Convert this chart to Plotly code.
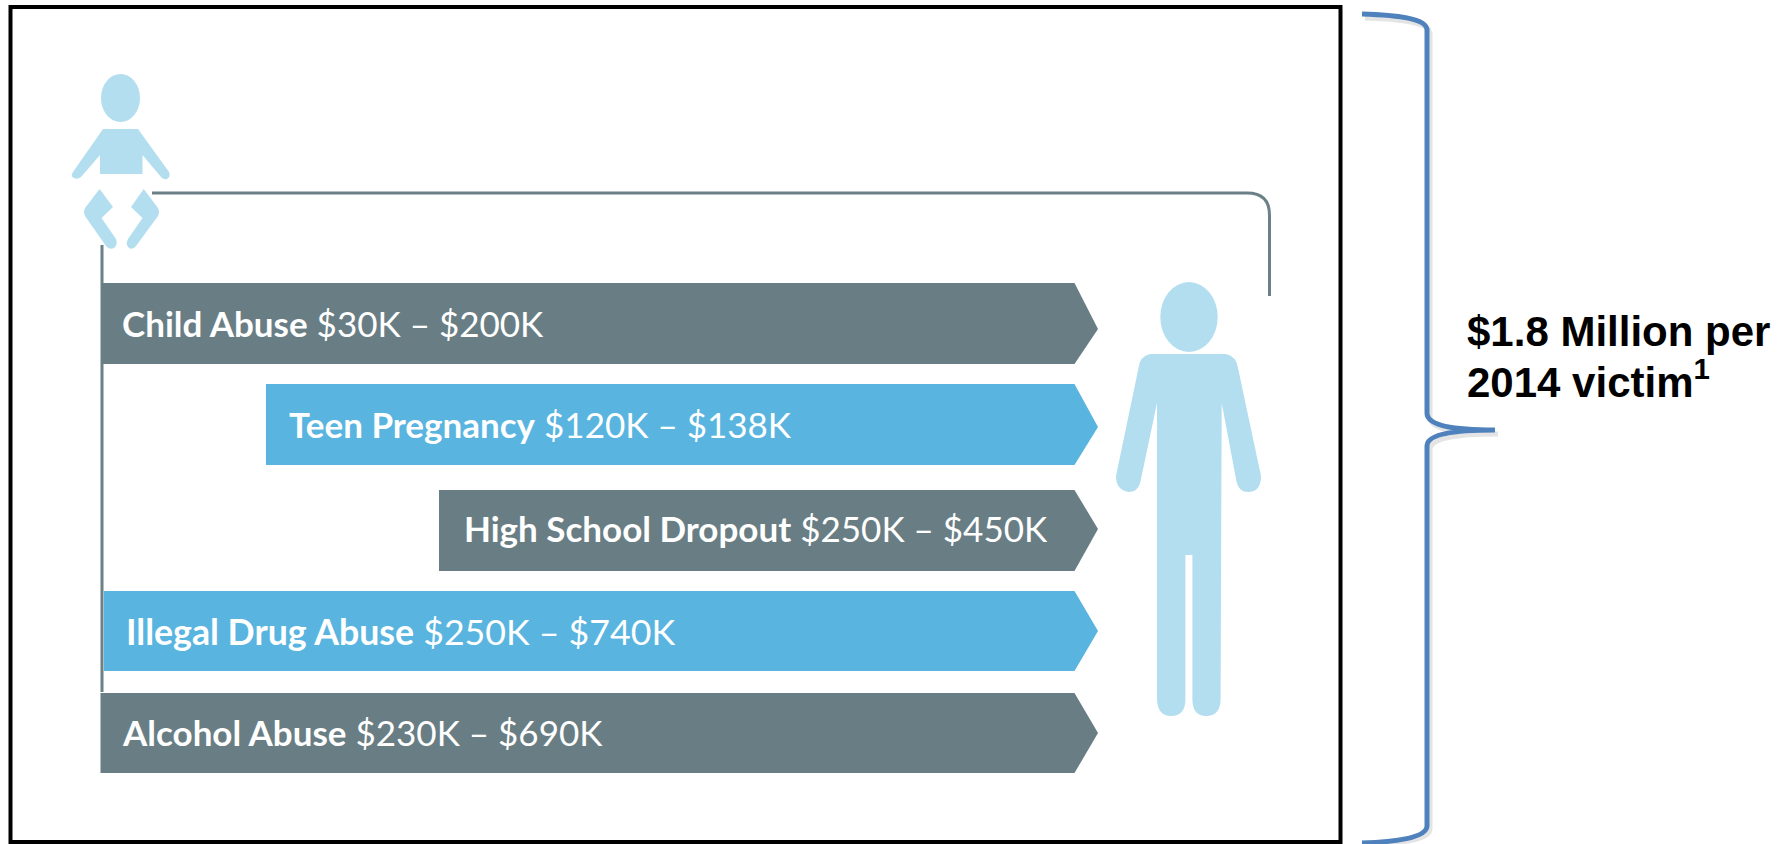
import plotly.graph_objects as go

# ---- data ----
categories = ["Child Abuse", "Teen Pregnancy", "High School Dropout", "Illegal Drug Abuse", "Alcohol Abuse"]
low_k = [30, 120, 250, 250, 230]
high_k = [200, 138, 450, 740, 690]
side_note = ["$1.8 Million per", "2014 victim<sup>1</sup>"]

# ---- layout and style (axis units equal page pixels) ----
W, H = 1790, 844
GRAY, BLUE, ICON, LINE, BRACE = "#697E84", "#59B5DF", "#B3DEF0", "#6B8087", "#4F81BD"
bar_colors = [GRAY, BLUE, GRAY, BLUE, GRAY]
bar_left = [101.5, 266, 439, 104, 100.5]
bar_top = [283, 384, 490, 591, 693]
bar_bottom = [364, 465, 571, 671, 773]
bar_tip_y = [329, 427, 529, 631, 733]
FLAT_END, TIP_X = 1074.5, 1098
label_x = [120, 287, 462, 124, 120]
label_y = [323, 424, 528, 631, 732]
label_font = [35, 35, 35, 35.7, 35]
note_y = [331, 379]

fig = go.Figure()
for i, name in enumerate(categories):
    fig.add_trace(go.Scatter(
        x=[bar_left[i], FLAT_END, TIP_X, FLAT_END, bar_left[i], bar_left[i]],
        y=[bar_top[i], bar_top[i], bar_tip_y[i], bar_bottom[i], bar_bottom[i], bar_top[i]],
        mode="lines", fill="toself", fillcolor=bar_colors[i],
        line=dict(width=0, color=bar_colors[i]), name=name, hoverinfo="skip", showlegend=False,
    ))
    fig.add_annotation(
        x=label_x[i], y=label_y[i], xref="x", yref="y", xanchor="left", yanchor="middle", showarrow=False,
        text=f"<b>{name}</b> ${low_k[i]}K – ${high_k[i]}K",
        font=dict(family="Lato", size=label_font[i], color="white"),
    )

for line_text, y in zip(side_note, note_y):
    fig.add_annotation(
        x=1465, y=y, xref="x", yref="y", xanchor="left", yanchor="middle", align="left", showarrow=False,
        text=f"<b>{line_text}</b>",
        font=dict(family="Liberation Sans", size=42, color="black"),
    )

person = ("M 1150 354 L 1226 354 Q 1236 356 1238 368 L 1261 476 Q 1261 492 1248 492 Q 1238 492 1236 479 "
          "L 1221.7 403 L 1220.6 700 Q 1220 716 1206 716 Q 1193 716 1192.4 700 L 1192.4 555 L 1185.4 555 "
          "L 1185.4 700 Q 1185 716 1171 716 Q 1158 716 1157 700 L 1157 403 L 1141 479 Q 1139 492 1128.5 492 "
          "Q 1116 490 1116 476 L 1138.5 368 Q 1140 356 1150 354 Z")
baby_body = ("M 103 129 L 138 129 L 169 172 Q 171 177 167 179 Q 164 180 161 177 L 142.5 155 L 142.5 174 L 100 174 "
             "L 100 155 L 81 177 Q 77 180 74 178 Q 70 176 73 172 Z")
baby_left_leg = ("M 99.6 189 L 113 207 L 101.5 218 L 116 239 Q 118 245 114 248 Q 109 250 106 246 "
                 "L 85 216 Q 83 212 85 208 Z")
baby_right_leg = ("M 143.7 189 L 158 208 Q 160 212 158 216 L 136 246 Q 133 250 129 248 Q 125 245 128 239 "
                  "L 142.5 218 L 131 207 Z")
guide = "M 102 692 L 102 245 M 152 193 L 1247 193 Q 1269.5 193 1269.5 215 L 1269.5 296"
brace = ("M 1362 14 C 1395 15 1427 18 1427 30 L 1427 413 C 1427 427 1460 430 1495 430 "
         "C 1460 430 1427 433 1427 446 L 1427 826 C 1427 838 1395 842 1362 843")
brace_shadow = ("M 1365 18 C 1398 19 1430 22 1430 34 L 1430 417 C 1430 431 1463 434 1498 434 "
                "C 1463 434 1430 437 1430 450 L 1430 829 C 1430 840 1398 844 1365 844")


def path(d, fill=None, color=None, width=0, layer="above", opacity=1):
    fig.add_shape(type="path", path=d, xref="x", yref="y", layer=layer, opacity=opacity,
                  fillcolor=fill or "rgba(0,0,0,0)", line=dict(color=color or "rgba(0,0,0,0)", width=width))


path(guide, color=LINE, width=3, layer="below")
path(person, fill=ICON)
path(baby_body, fill=ICON)
path(baby_left_leg, fill=ICON)
path(baby_right_leg, fill=ICON)
fig.add_shape(type="circle", xref="x", yref="y", x0=101, x1=140, y0=74, y1=122, fillcolor=ICON, line_width=0)
fig.add_shape(type="circle", xref="x", yref="y", x0=1160.3, x1=1217.7, y0=282, y1=352, fillcolor=ICON, line_width=0)
path(brace_shadow, color="#888888", width=5, opacity=0.22)
path(brace, color=BRACE, width=5)
fig.add_shape(type="rect", xref="x", yref="y", x0=10.5, x1=1340.5, y0=7, y1=842,
              line=dict(color="black", width=4), fillcolor="rgba(0,0,0,0)")

fig.update_xaxes(range=[0, W], visible=False, fixedrange=True)
fig.update_yaxes(range=[H, 0], visible=False, fixedrange=True)
fig.update_layout(width=W, height=H, margin=dict(l=0, r=0, t=0, b=0), paper_bgcolor="white",
                  plot_bgcolor="white", showlegend=False)
fig.write_html("out.html", config={"displayModeBar": False},
               post_script="document.body.style.margin='0';document.documentElement.style.overflow='hidden';")
